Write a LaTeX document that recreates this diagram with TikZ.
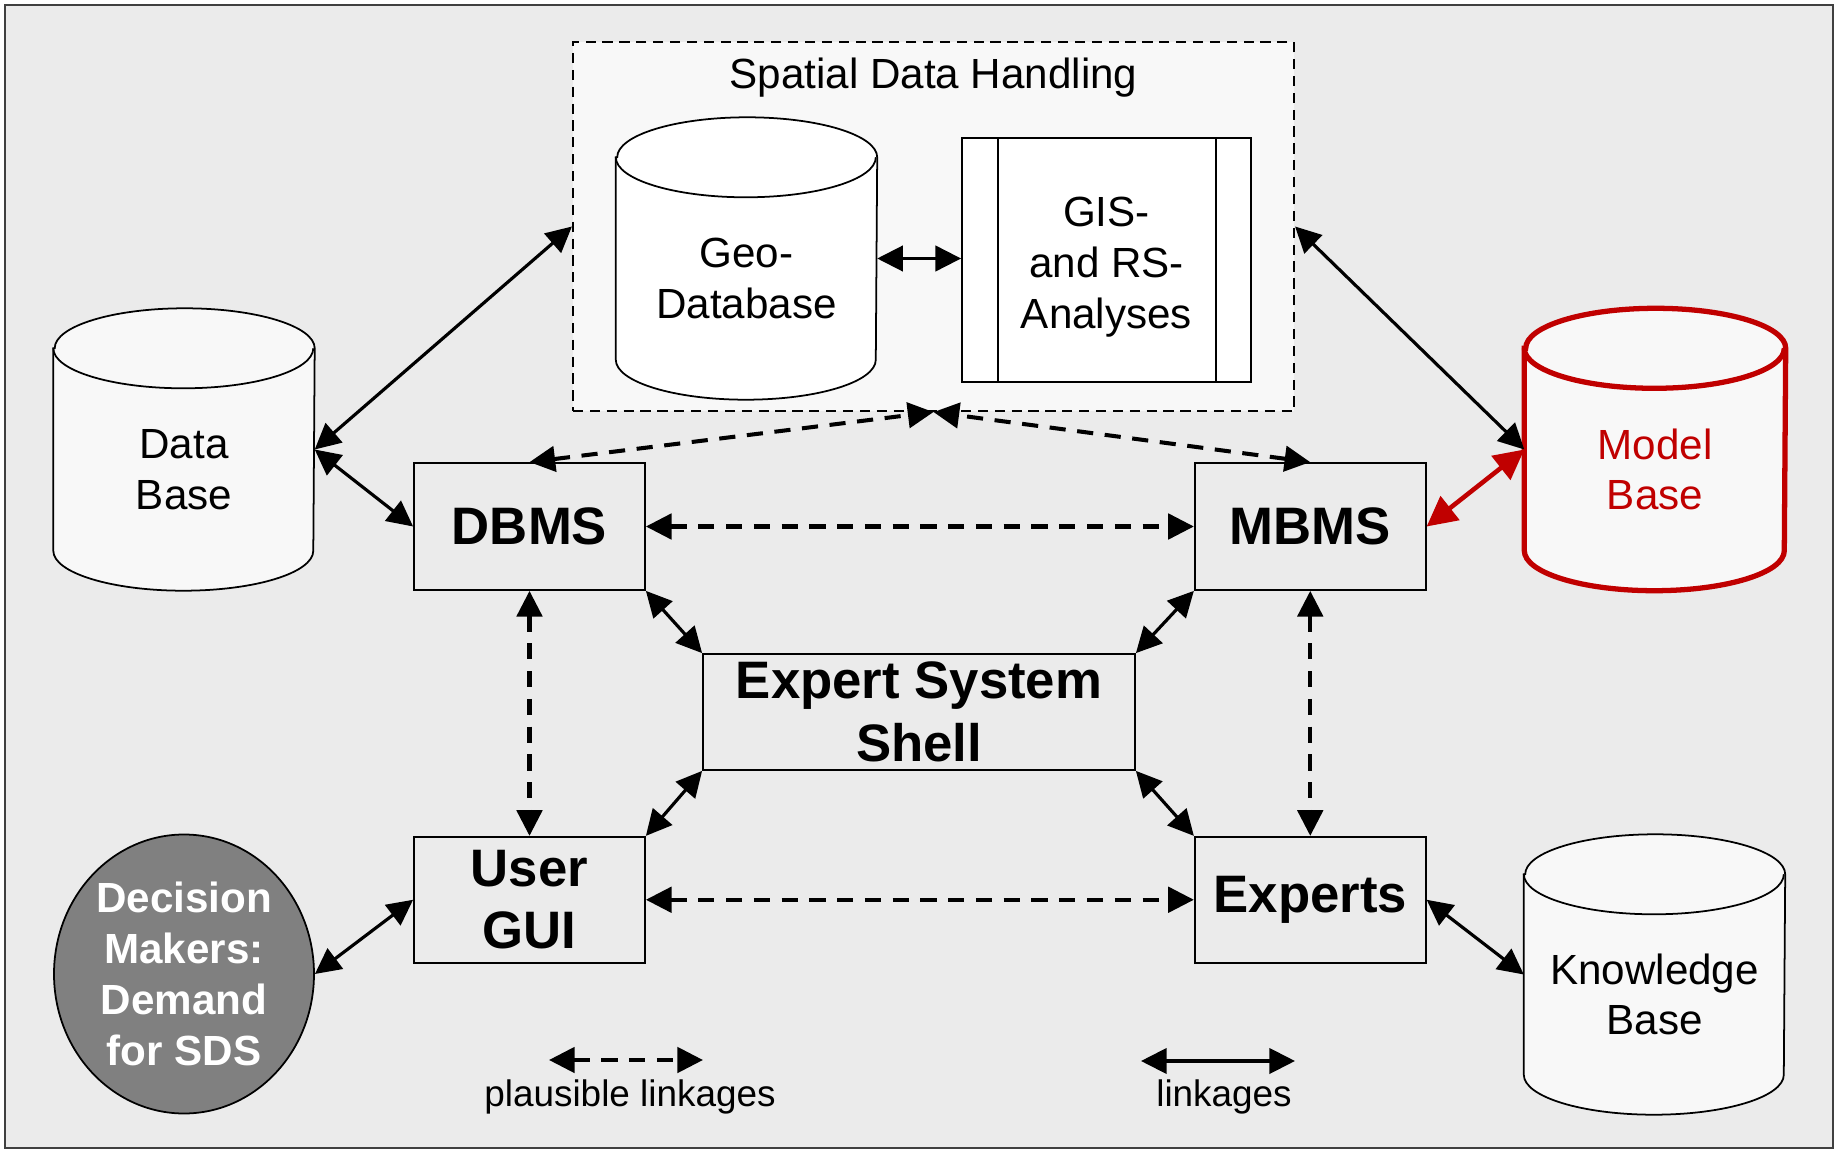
\documentclass[tikz,border=0pt]{standalone}
\usepackage{fontspec}
\setmainfont{Liberation Sans}
\usetikzlibrary{arrows.meta,positioning,shapes.geometric,calc}
\definecolor{panelgray}{HTML}{EBEBEB}
\definecolor{storewhite}{HTML}{F8F8F8}
\definecolor{makergray}{HTML}{808080}
\definecolor{modelred}{HTML}{C00000}
\tikzset{
  every node/.style={font=\fontsize{12}{14.4}\selectfont,align=center},
  unit/.style={draw,line width=0.5pt,fill=panelgray,inner sep=0pt,
    font=\fontsize{15}{17.8}\selectfont\bfseries},
  store/.style={minimum width=2.6cm,minimum height=2.81cm,inner sep=0pt},
  link/.style={{Triangle[length=7.3pt,width=7.2pt]}-{Triangle[length=7.3pt,width=7.2pt]},line width=0.9pt},
  maybe/.style={link,line width=1.15pt,dash pattern=on 4.6pt off 3.3pt},
  legend/.style={font=\fontsize{10.5}{12.6}\selectfont}
}
% cylinder outline round a store node
\newcommand\storecyl[3][storewhite]{%
  \filldraw[line width=0.5pt,fill=#1,#3]
    ($(#2.north west)+(0,-0.4)$) -- ($(#2.south west)+(0,0.4)$)
    arc[start angle=180,end angle=360,x radius=1.3,y radius=0.4]
    -- ($(#2.north east)+(0,-0.4)$)
    arc[start angle=0,end angle=180,x radius=1.3,y radius=0.4] -- cycle;
  \draw[line width=0.5pt,#3] ($(#2.north west)+(0,-0.4)$)
    arc[start angle=180,end angle=360,x radius=1.3,y radius=0.4];}
\begin{document}
\begin{tikzpicture}
  \useasboundingbox (0,0) rectangle (18.38,-11.52);
  \draw[fill=panelgray,draw=black!75,line width=0.8pt] (0.05,-0.05) rectangle (18.33,-11.48);
  % spatial data handling
  \node[draw,dash pattern=on 2.9pt off 1.9pt,line width=0.6pt,fill=storewhite,minimum width=7.21cm,minimum height=3.69cm] (spatial) at (9.335,-2.265) {};
  \node (sdhtitle) at ($(spatial.north)+(0,-0.37)$) {Spatial Data Handling};
  \node[store] (geodb) at (7.465,-2.585) {};
  \storecyl[white]{geodb}{}
  \node (geodbtext) at ($(geodb)+(0,-0.2)$) {Geo-\\Database};
  \node[draw,line width=0.5pt,fill=white,minimum width=2.89cm,minimum height=2.44cm,
    path picture={\draw ([xshift=3.6mm]path picture bounding box.north west) -- ([xshift=3.6mm]path picture bounding box.south west);
      \draw ([xshift=-3.5mm]path picture bounding box.north east) -- ([xshift=-3.5mm]path picture bounding box.south east);}] (gis) at (11.065,-2.60) {\rule{0pt}{12.5pt}GIS-\\and RS-\\Analyses};
  % stores
  \node[store] (database) at (1.84,-4.495) {};
  \storecyl{database}{}
  \node (databasetext) at ($(database)+(0,-0.2)$) {Data\\Base};
  \node[store] (modelbase) at (16.55,-4.495) {};
  \storecyl{modelbase}{draw=modelred,line width=1.5pt}
  \node[text=modelred] (modelbasetext) at ($(modelbase)+(0,-0.2)$) {Model\\Base};
  \node[store,minimum height=2.79cm] (knowbase) at (16.545,-9.745) {};
  \storecyl{knowbase}{}
  \node (knowbasetext) at ($(knowbase)+(0,-0.2)$) {Knowledge\\Base};
  % management units
  \node[unit,minimum width=2.31cm,minimum height=1.27cm] (dbms) at (5.295,-5.265) {DBMS};
  \node[unit,minimum width=2.31cm,minimum height=1.27cm,right=5.48cm of dbms] (mbms) {MBMS};
  \node[unit,minimum width=4.32cm,minimum height=1.16cm] (ess) at (9.19,-7.12) {Expert System\\Shell};
  \node[unit,minimum width=2.31cm,minimum height=1.26cm,below=2.45cm of dbms] (gui) {User\\GUI};
  \node[unit,minimum width=2.31cm,minimum height=1.26cm,below=2.45cm of mbms] (experts) {Experts};
  \node[ellipse,draw,line width=0.5pt,fill=makergray,text=white,font=\fontsize{12}{14.5}\selectfont\bfseries,
    minimum width=2.6cm,minimum height=2.79cm,inner sep=0pt] (decision) at (1.84,-9.74) {Decision\\Makers:\\Demand\\for SDS};
  % linkages
  \draw[link] (geodb.east) -- (gis.west |- geodb.east);
  \draw[link] (database.east) -- (spatial.west);
  \draw[link] (database.east) -- (dbms.west);
  \draw[link] (spatial.east) -- (modelbase.west);
  \draw[{Triangle[length=8.5pt,width=8.5pt]}-{Triangle[length=8.5pt,width=8.5pt]},draw=modelred,line width=1.3pt] (modelbase.west) -- (mbms.east);
  \draw[link] (dbms.south east) -- (ess.north west);
  \draw[link] (mbms.south west) -- (ess.north east);
  \draw[link] (gui.north east) -- (ess.south west);
  \draw[link] (experts.north west) -- (ess.south east);
  \draw[link] (decision.east) -- (gui.west);
  \draw[link] (experts.east) -- (knowbase.west);
  % plausible linkages
  \draw[maybe] (dbms.north) -- (spatial.south);
  \draw[maybe] (mbms.north) -- (spatial.south);
  \draw[maybe] (dbms.east) -- (mbms.west);
  \draw[maybe] (gui.east) -- (experts.west);
  \draw[maybe] (dbms.south) -- (gui.north);
  \draw[maybe] (mbms.south) -- (experts.north);
  % legend
  \coordinate (pl1) at (5.49,-10.60);
  \coordinate (pl2) at (7.03,-10.60);
  \draw[maybe] (pl1) -- (pl2);
  \node[legend] (pltext) at (6.30,-10.97) {plausible linkages};
  \coordinate (li1) at (11.41,-10.61);
  \coordinate (li2) at (12.95,-10.61);
  \draw[link] (li1) -- (li2);
  \node[legend] (litext) at (12.24,-10.97) {linkages};
\end{tikzpicture}
\end{document}
